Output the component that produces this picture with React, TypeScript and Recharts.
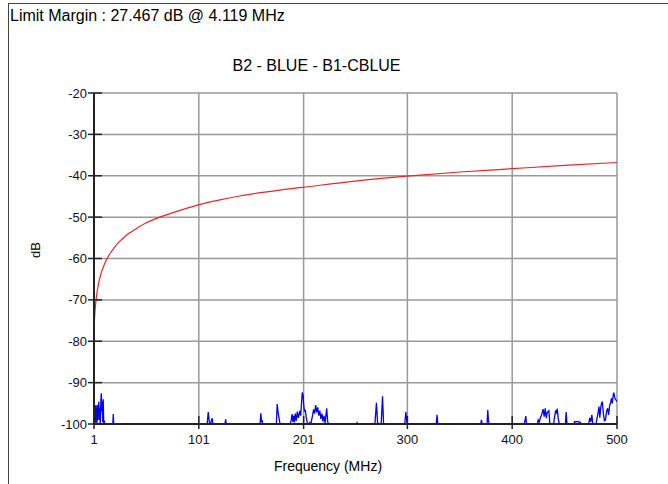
import { CartesianGrid, Line, LineChart, XAxis, YAxis } from 'recharts'

const TITLE = 'B2 - BLUE - B1-CBLUE'
const MARGIN_TEXT = 'Limit Margin : 27.467 dB @ 4.119 MHz'

const X_TICKS = [1, 101, 201, 300, 400, 500]
const Y_TICKS = [-100, -90, -80, -70, -60, -50, -40, -30, -20]

// limit line (red)
const LIMIT_FREQ = [1, 1.3, 1.6, 2, 2.5, 3, 4, 5, 6, 7, 8, 10, 12, 14, 16, 20, 25, 30, 35, 40, 50, 64, 80, 100, 120, 140, 160, 180, 200, 250, 300, 350, 400, 450, 500]
const LIMIT_DB = [-77.3, -75.5, -74.1, -72.6, -71.1, -69.9, -68, -66.5, -65.3, -64.3, -63.4, -62, -60.8, -59.8, -58.9, -57.5, -56, -54.8, -53.8, -53, -51.5, -50, -48.6, -47.1, -45.9, -44.9, -44.1, -43.4, -42.8, -41.3, -40.1, -39.1, -38.3, -37.5, -36.8]

// measured trace (blue)
const TRACE_FREQ = [
  1, 2, 2.6, 3, 3.4, 3.8, 4.1, 4.5, 5, 5.6, 6, 6.5, 7, 7.6, 8, 8.4, 8.8, 9.3, 9.8, 10.3, 10.8, 11.3,
  19, 19.4, 19.8,
  109, 110, 111, 112, 113.8, 114.5, 126, 126.6, 127.2,
  159.5, 160.2, 160.8, 161.5, 162,
  175, 175.8, 176.5, 177.5, 178.5,
  188, 189, 190, 190.8, 191.5, 192.3, 193, 194, 195, 196, 197.4, 198.2, 199, 199.7, 200.5, 201, 201.8, 202.5, 203.5, 204.5,
  206, 207, 208, 209.5, 210.5, 211.5, 212.5, 213.5, 214.5, 215.5, 216.5, 217.5, 218.5, 219.5, 220.5, 221.5, 223, 224, 225,
  251.5, 252, 252.5,
  269, 270.5, 271.5, 272, 275, 276.3, 277.3,
  297.5, 298.5, 299.5, 300,
  327.5, 328.3, 329,
  370, 370.7, 371.3, 376, 376.7, 377.3, 378,
  411.5, 412.3, 413, 413.7,
  424, 424.8, 425.8, 427, 428, 429.5, 430.5, 431.5, 432.5, 433.5, 435, 435.8, 436.5,
  439.5, 440.5, 441.5, 442.3, 443, 444, 445,
  450.8, 451.5, 452.3,
  459, 459.5, 461, 462, 465, 465.5,
  473, 474, 475, 476, 477,
  480, 481, 482, 482.8, 483.6, 484.5, 485.3, 486, 487, 488, 489, 490, 491, 492, 493, 494, 494.7, 495.5, 496.3, 497, 498, 499, 500,
]
const TRACE_DB = [
  -100, -100, -95.5, -99.5, -96, -100, -95.4, -99, -97, -94.6, -99, -96, -100, -94, -92.6, -97, -94.5, -99.5, -94, -100, -99.2, -100,
  -100, -97.6, -100,
  -100, -97.1, -99.5, -100, -98.6, -100, -100, -98.9, -100,
  -100, -97.4, -99.3, -99.2, -100,
  -100, -95.2, -97, -98.5, -100,
  -100, -99.3, -97.6, -99.5, -98, -99.6, -97.5, -99.2, -97, -98.5, -96.8, -98, -95, -92.4, -93, -95.2, -97, -96.5, -98.4, -99.7,
  -100, -99.6, -99.8, -98, -96.5, -97.5, -95.4, -97.2, -96, -98, -96.8, -98.8, -97.5, -99.4, -98, -99.8, -96.2, -99.5, -100,
  -100, -99.7, -100,
  -100, -94.9, -99.5, -100, -100, -93.3, -100,
  -100, -97.1, -99.3, -100,
  -100, -97.8, -100,
  -100, -99, -100, -100, -96.6, -99, -100,
  -100, -99, -98.1, -100,
  -100, -99, -99.5, -98.5, -97.8, -96.4, -98.2, -96.2, -98.6, -97.2, -96.8, -99.6, -100,
  -100, -98.2, -96.7, -97.5, -96.3, -98.8, -100,
  -100, -97.1, -100,
  -100, -99.4, -99.5, -99.4, -99.6, -100,
  -100, -98.5, -99.5, -97.8, -100,
  -100, -98.5, -97.2, -95.8, -98.5, -96, -95, -94.6, -97.5, -99.2, -99, -97, -96.2, -97.8, -95.5, -94.8, -93.8, -95, -93.2, -92.4, -93.8, -94.2, -94.6,
]

const limitData = LIMIT_FREQ.map((f, i) => ({ f, db: LIMIT_DB[i] }))
const traceData = TRACE_FREQ.map((f, i) => ({ f, db: TRACE_DB[i] }))

const FONT = '"Liberation Sans", Arial, sans-serif'
const AXIS = '#222'

function YTick({ x, y, payload }: any) {
  return (
    <g>
      <line x1={x - 6} x2={x + 8} y1={y} y2={y} stroke={AXIS} strokeWidth={1.5} />
      <text x={x - 7} y={y} dy={4.5} textAnchor="end" fontSize={13} fill="#111" fontFamily={FONT}>
        {payload.value}
      </text>
    </g>
  )
}

function XTick({ x, y, payload }: any) {
  return (
    <g>
      <line x1={x} x2={x} y1={y - 8} y2={y + 5} stroke={AXIS} strokeWidth={1.5} />
      <text x={x} y={y + 20} textAnchor="middle" fontSize={13} fill="#111" fontFamily={FONT}>
        {payload.value}
      </text>
    </g>
  )
}

export default function App() {
  return (
    <div style={{ position: 'absolute', left: 0, top: 0, width: 668, height: 484, background: '#fff', overflow: 'hidden', fontFamily: FONT }}>
      <div style={{ position: 'absolute', left: 8, top: 3, width: 700, height: 500, borderLeft: '1px solid #444', borderTop: '1px solid #444' }} />
      <div style={{ position: 'absolute', left: 10, top: 7, fontSize: 16, color: '#000', whiteSpace: 'nowrap' }}>{MARGIN_TEXT}</div>
      <LineChart width={668} height={484} margin={{ top: 93, right: 51, bottom: 0, left: 44 }}>
        <text x={316.5} y={71} textAnchor="middle" fontSize={16} fill="#000" fontFamily={FONT}>
          {TITLE}
        </text>
        <text x={40} y={250} transform="rotate(-90 40 250)" textAnchor="middle" fontSize={13} fill="#000" fontFamily={FONT}>
          dB
        </text>
        <text x={328} y={471} textAnchor="middle" fontSize={14} fill="#000" fontFamily={FONT}>
          Frequency (MHz)
        </text>
        <CartesianGrid stroke="#999" strokeWidth={1.5} />
        <XAxis
          dataKey="f"
          type="number"
          domain={[1, 500]}
          ticks={X_TICKS}
          allowDataOverflow
          height={60}
          tickSize={0}
          tickMargin={0}
          tickLine={false}
          axisLine={{ stroke: AXIS, strokeWidth: 2 }}
          tick={<XTick />}
          interval={0}
        />
        <YAxis
          type="number"
          domain={[-100, -20]}
          ticks={Y_TICKS}
          allowDataOverflow
          width={50}
          tickSize={0}
          tickMargin={0}
          tickLine={false}
          axisLine={{ stroke: AXIS, strokeWidth: 2 }}
          tick={<YTick />}
          interval={0}
        />
        <Line data={limitData} dataKey="db" stroke="#e8262a" strokeWidth={1.2} dot={false} isAnimationActive={false} type="monotone" />
        <Line data={traceData} dataKey="db" stroke="#0000ee" strokeWidth={1.3} dot={false} isAnimationActive={false} type="linear" />
      </LineChart>
    </div>
  )
}
